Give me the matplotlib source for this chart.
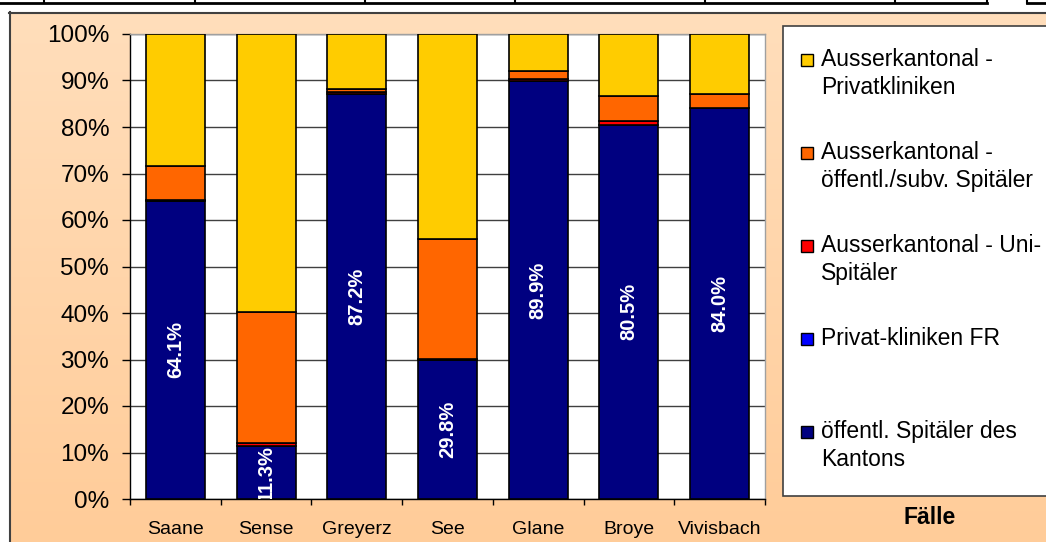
import numpy as np
import matplotlib.pyplot as plt
from matplotlib.patches import Rectangle
from matplotlib.lines import Line2D

plt.rcParams['font.family'] = ['Liberation Sans', 'DejaVu Sans']

# data (percent of cases per region)
categories = ["Saane", "Sense", "Greyerz", "See", "Glane", "Broye", "Vivisbach"]
oeff_kanton = [64.1, 11.3, 87.2, 29.8, 89.9, 80.5, 84.0]
privat_fr = [0.0, 0.0, 0.0, 0.0, 0.0, 0.0, 0.0]
ak_uni = [0.3, 0.7, 0.3, 0.4, 0.5, 0.8, 0.1]
ak_oeff_subv = [7.2, 28.2, 0.7, 25.7, 1.7, 5.4, 3.0]
ak_privat = [28.4, 59.8, 11.8, 44.1, 7.9, 13.3, 12.9]

series_names = ["öffentl. Spitäler des\nKantons", "Privat-kliniken FR",
                "Ausserkantonal - Uni-\nSpitäler", "Ausserkantonal -\nöffentl./subv. Spitäler",
                "Ausserkantonal -\nPrivatkliniken"]
series_colors = ["#000080", "#0000FF", "#FF0000", "#FF6600", "#FFCC00"]

W, H = 1046, 542
fig = plt.figure(figsize=(W / 100, H / 100), dpi=100)
fig.patch.set_facecolor("white")

def fx(px):
    return px / W

def fy(py):
    return 1 - py / H

# chart area with peach gradient
bg = fig.add_axes([fx(9), 0, 1 - fx(9), fy(12)])
grad = np.linspace(0, 1, 256).reshape(-1, 1)
top_c = np.array([255, 222, 187]) / 255
bot_c = np.array([255, 204, 153]) / 255
img = top_c + (bot_c - top_c) * grad[:, :, None]
bg.imshow(img, aspect="auto", extent=[0, 1, 0, 1])
bg.set_xlim(0, 1)
bg.set_ylim(0, 1)
bg.axis("off")
fig.add_artist(Line2D([fx(9), 1], [fy(12.5), fy(12.5)], color="#404040", lw=1.5))
fig.add_artist(Line2D([fx(9.5), fx(9.5)], [0, fy(12)], color="#404040", lw=1.5))

# table fragment on top
fig.add_artist(Line2D([0, fx(987)], [fy(3), fy(3)], color="black", lw=2))
for xv in [44, 195, 365, 515, 705, 895, 987]:
    fig.add_artist(Line2D([fx(xv), fx(xv)], [fy(3), 1], color="black", lw=1.5))
fig.add_artist(Line2D([fx(1027), 1], [fy(3), fy(3)], color="black", lw=2))
fig.add_artist(Line2D([fx(1027), fx(1027)], [fy(3), 1], color="black", lw=1.5))

# main plot
ax = fig.add_axes([fx(130), fy(499), fx(765) - fx(130), fy(34) - fy(499)])
ax.set_facecolor("white")
x = np.arange(len(categories))
bottom = np.zeros(len(categories))
for vals, col in zip([oeff_kanton, privat_fr, ak_uni, ak_oeff_subv, ak_privat], series_colors):
    ax.bar(x, vals, width=0.65, bottom=bottom, color=col, edgecolor="black", linewidth=1.2, zorder=3)
    bottom += np.array(vals)

for xi, v in zip(x, oeff_kanton):
    ax.text(xi, v / 2, f"{v:.1f}%", rotation=90, ha="center", va="center", color="white",
            fontsize=14.5, fontweight="bold", zorder=4, clip_on=True)

ax.set_xlim(-0.5, len(categories) - 0.5)
ax.set_ylim(0, 100)
ax.set_yticks(np.arange(0, 101, 10))
ax.set_yticklabels([f"{v}%" for v in range(0, 101, 10)], fontsize=17.5)
ax.yaxis.grid(True, color="#404040", linewidth=1, zorder=0)
ax.set_axisbelow(True)
ax.tick_params(axis="y", length=6, width=1, pad=9, direction="out")

ax.set_xticks(x)
ax.set_xticklabels(categories, fontsize=14)
ax.set_xticks(np.arange(-0.5, len(categories), 1), minor=True)
ax.tick_params(axis="x", which="major", length=0, pad=16)
ax.tick_params(axis="x", which="minor", length=4, width=1, direction="out")

for s in ["left", "bottom"]:
    ax.spines[s].set_color("black")
    ax.spines[s].set_linewidth(1)
for s in ["top", "right"]:
    ax.spines[s].set_color("#A0A0A0")
    ax.spines[s].set_linewidth(1)

# legend drawn by hand (Excel style, marker on first line)
fig.add_artist(Rectangle((fx(783), fy(496)), 1 - fx(783) + 0.01, fy(26) - fy(496),
                         transform=fig.transFigure, facecolor="white", edgecolor="#404040", lw=1.2))
legend_order = [4, 3, 2, 1, 0]
for i, k in enumerate(legend_order):
    base = 66 + 93 * i
    fig.add_artist(Rectangle((fx(801), fy(base)), fx(12), fy(0) - fy(12), transform=fig.transFigure,
                             facecolor=series_colors[k], edgecolor="black", lw=1))
    for j, line in enumerate(series_names[k].split("\n")):
        fig.text(fx(821), fy(base + 28 * j), line, fontsize=16.5, va="baseline", ha="left")

fig.text(fx(930), fy(524), "Fälle", fontsize=16.5, fontweight="bold", ha="center", va="baseline")

fig.savefig("out.png", dpi=100)
